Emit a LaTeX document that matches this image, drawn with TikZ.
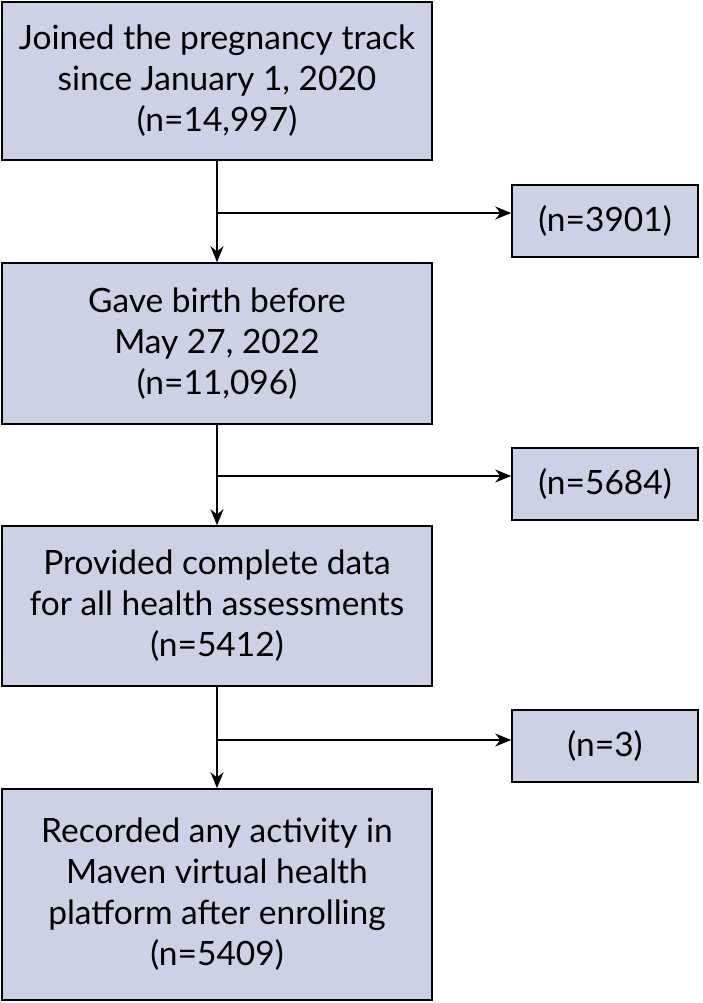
\documentclass[tikz,border=0pt]{standalone}
\usepackage{fontspec}
\setmainfont{Lato}
\usetikzlibrary{arrows.meta}
\definecolor{boxfill}{HTML}{CDD1E6}
\tikzset{
 box/.style={draw=black,line width=1.6pt,fill=boxfill,align=center,inner sep=0pt,font=\fontsize{33.5}{41}\selectfont},
 arr/.style={line width=1.6pt,-{Stealth[length=16pt,width=13pt]}},
}
\begin{document}
\begin{tikzpicture}[x=1pt,y=-1pt]
\useasboundingbox (0,0) rectangle (702,1003);
\node[box,minimum width=430pt,minimum height=158pt] (b1) at (217,81) {Joined the pregnancy track\\since January 1, 2020\\(n=14,997)};
\node[box,minimum width=430pt,minimum height=161pt] (b2) at (217,343.5) {Gave birth before\\May 27, 2022\\(n=11,096)};
\node[box,minimum width=430pt,minimum height=160pt] (b3) at (217,606) {Provided complete data\\for all health assessments\\(n=5412)};
\node[box,minimum width=430pt,minimum height=211pt] (b4) at (217,894.5) {Recorded any activity in\\Maven virtual health\\platform after enrolling\\(n=5409)};
\node[box,minimum width=186pt,minimum height=72pt] (s1) at (605,221) {(n=3901)};
\node[box,minimum width=186pt,minimum height=72pt] (s2) at (605,484) {(n=5684)};
\node[box,minimum width=186pt,minimum height=72pt] (s3) at (605,746) {(n=3)};
\draw[arr] (b1) -- (b2);
\draw[arr] (b2) -- (b3);
\draw[arr] (b3) -- (b4);
\coordinate (j1) at (217,213);
\coordinate (j2) at (217,476);
\coordinate (j3) at (217,740);
\draw[arr] (j1) -- (j1 -| s1.west);
\draw[arr] (j2) -- (j2 -| s2.west);
\draw[arr] (j3) -- (j3 -| s3.west);
\end{tikzpicture}
\end{document}
